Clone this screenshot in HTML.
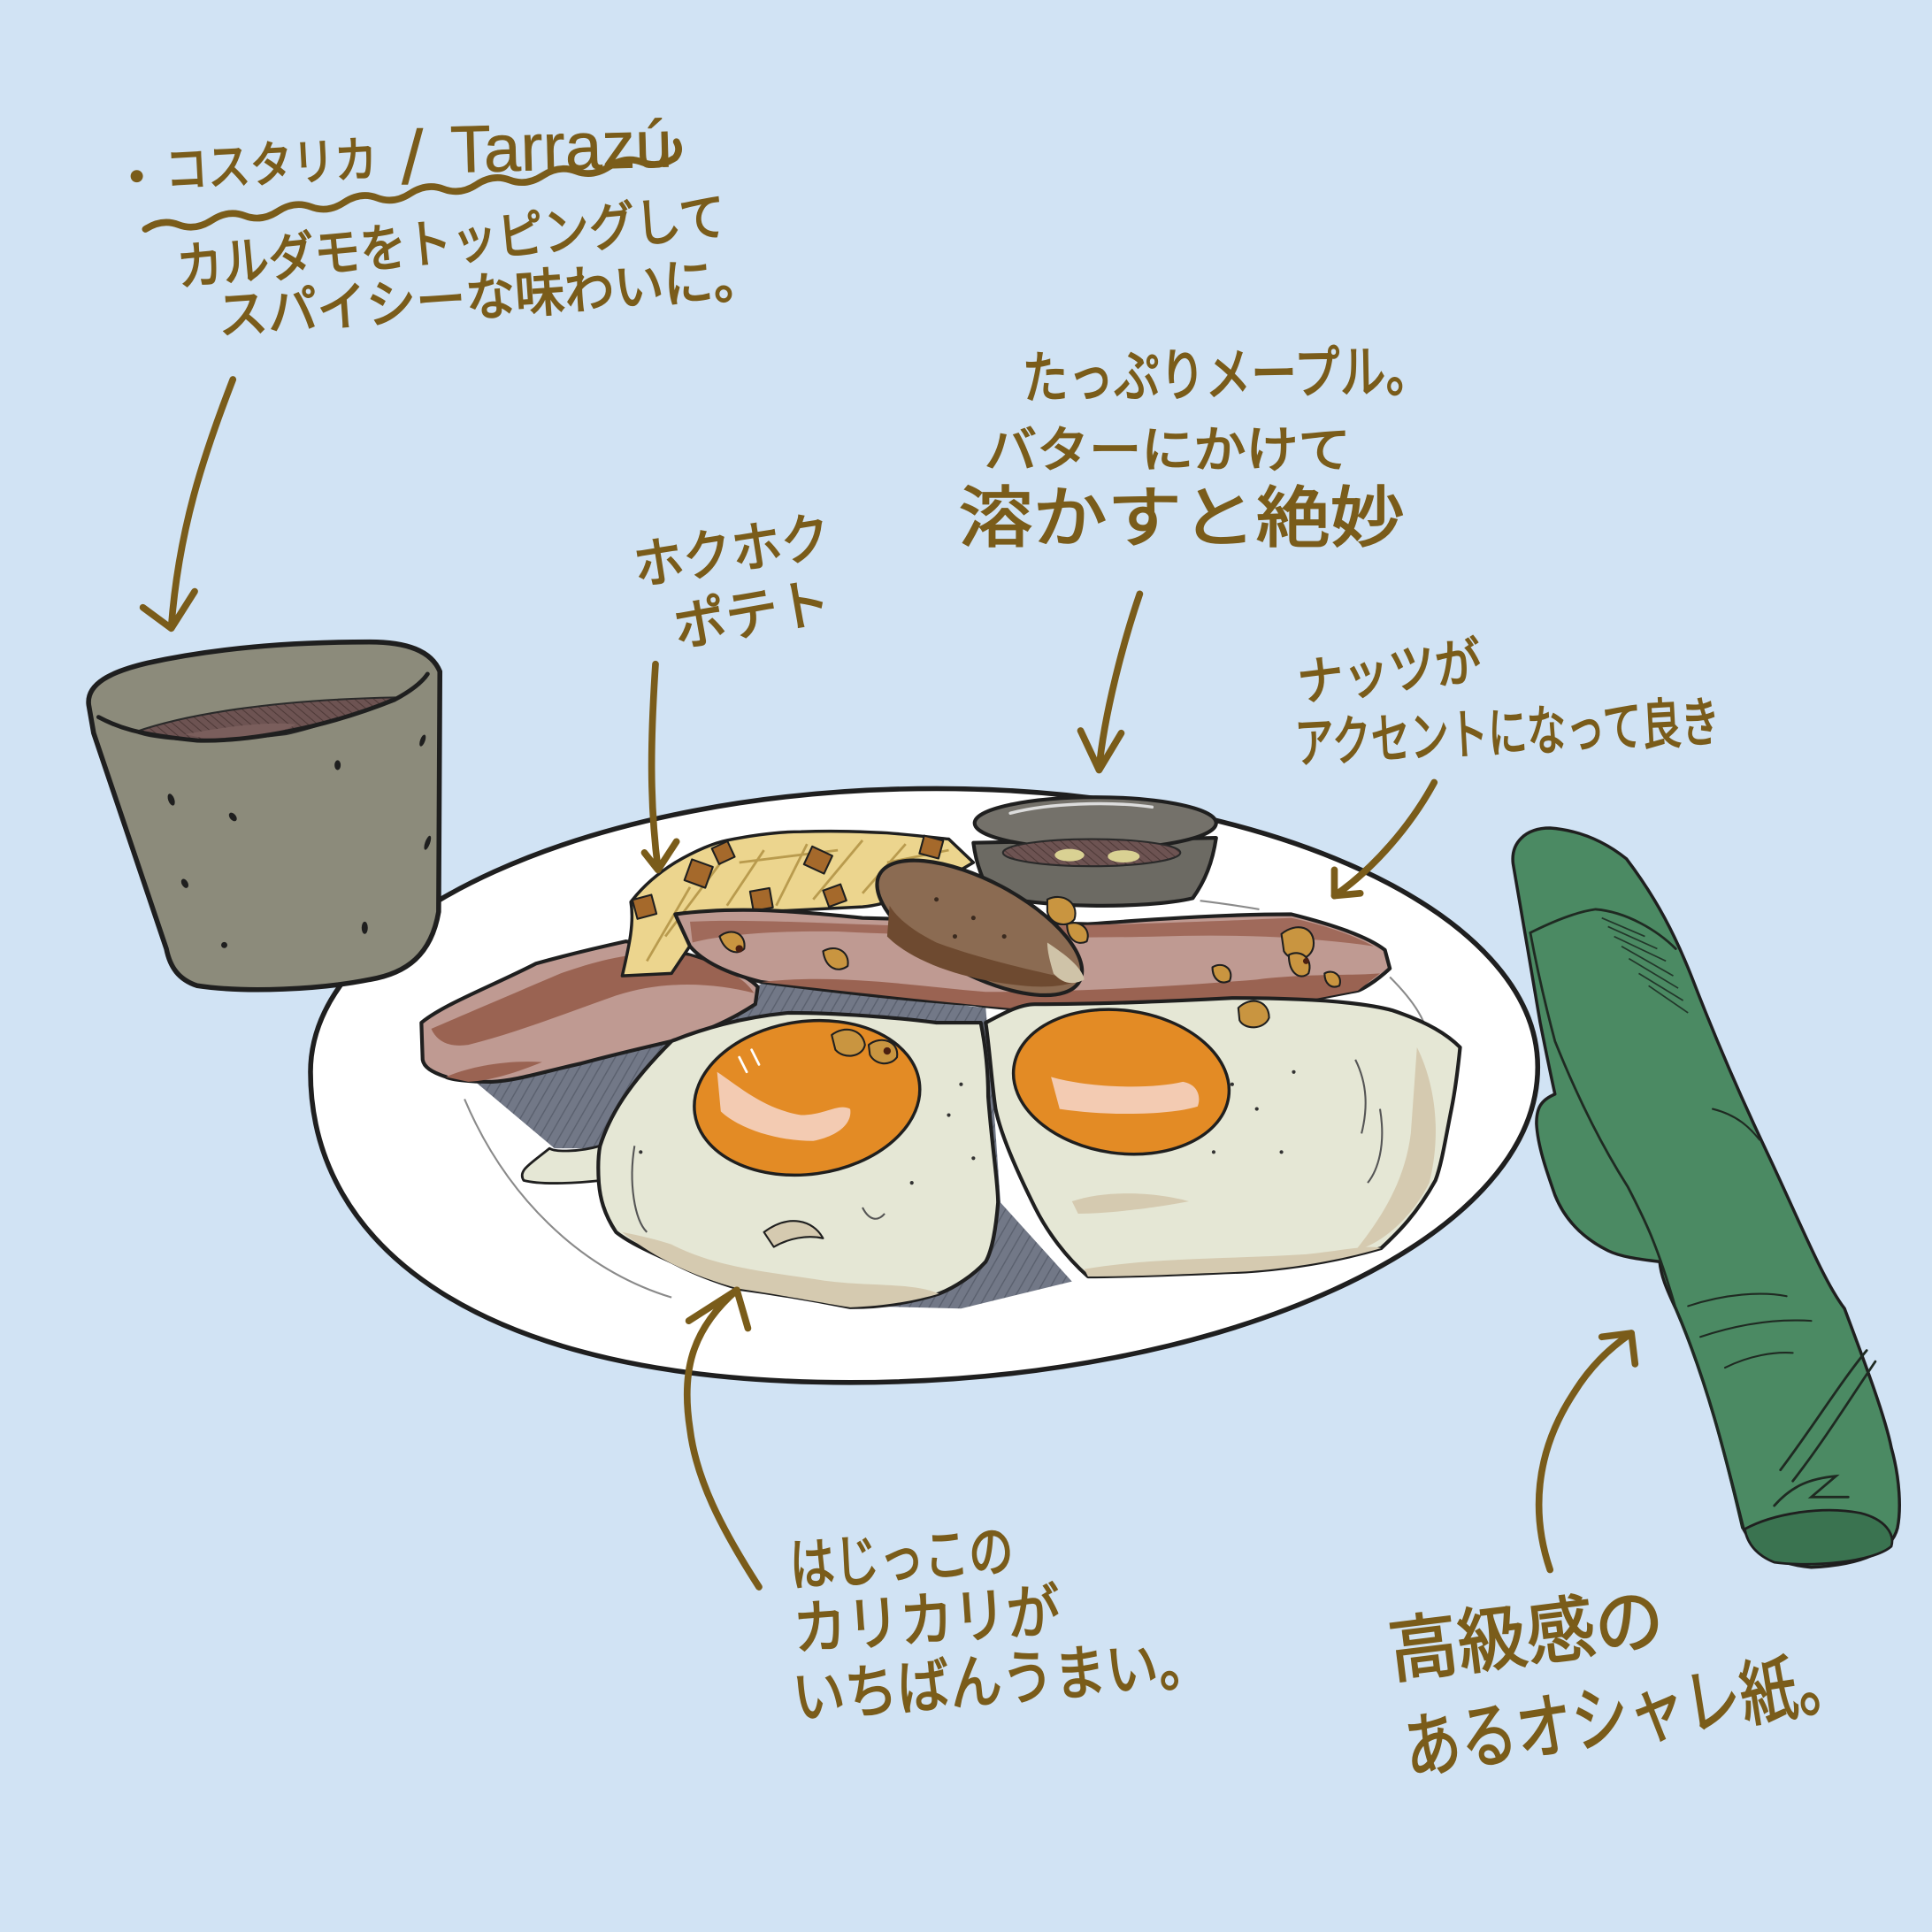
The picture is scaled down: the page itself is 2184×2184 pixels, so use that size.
<!DOCTYPE html>
<html>
<head>
<meta charset="utf-8">
<style>
html,body{margin:0;padding:0;background:#d1e3f4;}
svg{display:block}
.t{font-family:"Liberation Sans","Noto Sans CJK JP",sans-serif;fill:#7a5c1a;stroke:#7a5c1a;stroke-width:1.3;}
.tl{font-family:"Liberation Sans",sans-serif;fill:#7a5c1a;stroke:#7a5c1a;stroke-width:0.4;}
.ar{fill:none;stroke:#7a5c1a;stroke-width:5.5;stroke-linecap:round;stroke-linejoin:round;}
.ol{stroke:#1f1f1f;stroke-linejoin:round;stroke-linecap:round;}
</style>
</head>
<body>
<svg width="2184" height="2184" viewBox="0 0 1568 1568" xmlns="http://www.w3.org/2000/svg">
<defs>
<pattern id="hatch" width="7" height="7" patternUnits="userSpaceOnUse" patternTransform="rotate(30)">
<rect width="7" height="7" fill="#727887"/>
<line x1="0" y1="0" x2="0" y2="7" stroke="#5a606e" stroke-width="2"/>
</pattern>
<pattern id="chatch" width="5" height="5" patternUnits="userSpaceOnUse" patternTransform="rotate(-50)">
<rect width="5" height="5" fill="#6d5352"/>
<line x1="0" y1="0" x2="0" y2="5" stroke="#4e3937" stroke-width="1.5"/>
</pattern>
</defs>
<rect width="1568" height="1568" fill="#d1e3f4"/>

<!-- PLATE -->
<path class="ol" d="M252,870 C252,743 481,640 760,640 C1029,640 1248,741 1248,866 C1248,1007 992,1122 690,1122 C388,1122 252,1011 252,870 Z" fill="#ffffff" stroke-width="4"/>
<path d="M377,892 C410,970 470,1030 545,1053" fill="none" stroke="#8a8a8a" stroke-width="1.5"/>
<path d="M1128,793 C1145,810 1155,825 1158,837" fill="none" stroke="#8a8a8a" stroke-width="1.5"/>
<path d="M974,731 C990,733 1005,735 1022,738" fill="none" stroke="#8a8a8a" stroke-width="1.5"/>

<!-- shadow -->
<path d="M387,879 L545,845 L620,797 L800,818 L806,890 L812,976 L870,1040 L780,1062 L700,1060 L600,1045 L500,1000 L486,932 L450,932 Z" fill="url(#hatch)"/>

<!-- sauce cup -->
<path class="ol" d="M790,684 C792,700 798,718 806,726 C840,737 930,738 968,729 C978,715 984,700 987,680 Z" fill="#6c6a63" stroke-width="3"/>
<ellipse class="ol" cx="889" cy="668" rx="98" ry="21" fill="#74716a" stroke-width="3"/>
<ellipse cx="886" cy="692" rx="72" ry="11" fill="url(#chatch)" stroke="#2a2a2a" stroke-width="1.5"/>
<ellipse cx="868" cy="694" rx="12" ry="5" fill="#d9d193"/>
<ellipse cx="912" cy="695" rx="13" ry="5" fill="#d9d193"/>
<path d="M820,660 C850,652 900,650 935,655" fill="none" stroke="#dcdcdc" stroke-width="2.5" stroke-linecap="round"/>

<!-- left bacon -->
<path class="ol" d="M342,830 C360,815 400,800 435,782 C460,775 490,768 508,764 C540,768 570,778 582,782 C600,790 610,795 615,801 L613,815 C590,830 565,840 545,845 C515,852 490,858 472,863 C440,870 420,877 399,878 C380,878 365,876 362,874 C350,870 344,866 343,860 Z" fill="#bf9a92" stroke-width="3"/>
<path d="M350,835 C380,822 420,805 455,790 C490,778 520,770 560,776 C590,785 605,795 612,806 C580,798 540,795 500,808 C460,822 420,838 380,848 C365,850 355,846 350,835 Z" fill="#9a6352"/>
<path d="M362,874 C380,866 410,860 440,862 C420,870 400,877 380,878 Z" fill="#9a6352"/>

<!-- fries -->
<path class="ol" d="M505,792 C510,770 515,750 512,732 C525,715 540,705 548,700 C565,690 580,684 590,682 C620,676 640,675 650,675 C680,674 700,675 720,676 C745,678 760,680 770,681 L790,700 C770,712 750,722 740,725 C720,733 710,735 700,736 L620,740 C600,742 585,744 575,746 C565,760 555,775 545,790 Z" fill="#ecd58e" stroke-width="2.5"/>
<g stroke="#b99b4e" stroke-width="2" fill="none">
<path d="M525,780 L560,720"/><path d="M540,760 L585,700"/><path d="M590,735 L620,690"/>
<path d="M630,735 L655,685"/><path d="M660,730 L700,682"/><path d="M700,725 L735,685"/>
<path d="M600,700 L680,690"/><path d="M720,700 L770,690"/>
</g>
<g class="ol" fill="#a5692b" stroke-width="1.5">
<rect x="515" y="728" width="16" height="16" transform="rotate(-15 523 736)"/>
<rect x="558" y="700" width="18" height="18" transform="rotate(20 567 709)"/>
<rect x="610" y="722" width="16" height="16" transform="rotate(-10 618 730)"/>
<rect x="655" y="690" width="18" height="16" transform="rotate(25 664 698)"/>
<rect x="670" y="720" width="15" height="14" transform="rotate(-20 677 727)"/>
<rect x="748" y="680" width="16" height="15" transform="rotate(15 756 687)"/>
<rect x="580" y="685" width="14" height="14" transform="rotate(-25 587 692)"/>
</g>

<!-- long bacon -->
<path class="ol" d="M548,742 C600,735 650,740 700,745 L883,750 C950,745 1000,742 1048,742 C1080,750 1110,760 1124,771 L1128,786 C1115,798 1105,803 1102,804 C1060,812 1010,822 974,826 C930,824 880,822 828,819 C810,818 795,816 790,815 C740,812 680,805 618,797 C590,790 570,780 560,768 Z" fill="#bf9a92" stroke-width="3"/>
<path d="M618,797 C680,790 740,800 800,805 C880,805 960,800 1020,795 C1060,790 1095,792 1120,790 L1102,804 C1060,812 1010,822 974,826 L828,819 C780,815 700,806 618,797 Z" fill="#9a6352"/>
<path d="M560,748 C620,745 700,752 780,752 C880,752 980,748 1048,745 C1080,752 1100,760 1115,768 C1060,760 1000,758 940,760 C860,762 760,760 680,756 C620,755 580,760 562,765 Z" fill="#a06a5b"/>

<!-- sausage -->
<ellipse class="ol" cx="795" cy="753" rx="92" ry="38" transform="rotate(28 795 753)" fill="#8b6b52" stroke-width="3"/>
<path d="M720,760 C740,780 780,795 830,800 C850,802 865,800 875,796 C850,790 800,780 760,765 C740,755 728,745 722,735 Z" fill="#6e4a30"/>
<path d="M850,765 C865,775 878,785 880,795 C870,800 862,798 855,790 C852,780 850,772 850,765 Z" fill="#cfc3a8"/>
<g fill="#3a2a1f"><circle cx="760" cy="730" r="1.8"/><circle cx="790" cy="745" r="1.8"/><circle cx="815" cy="760" r="1.8"/><circle cx="775" cy="760" r="1.8"/></g>

<!-- left egg -->
<path d="M487,930 C470,935 450,935 446,932 C430,945 420,950 425,958 C440,962 470,960 488,958 Z" fill="#e5e7d5" class="ol" stroke-width="2"/>
<path class="ol" d="M545,845 C570,835 600,826 640,822 C680,822 730,826 760,830 L796,830 C800,850 802,870 802,890 C805,930 810,960 810,976 C808,1000 805,1015 800,1024 C790,1035 775,1045 762,1050 C740,1057 715,1061 690,1061 C660,1055 630,1050 600,1046 C580,1040 560,1032 545,1024 C525,1015 510,1008 500,1000 C490,985 487,972 486,960 C485,945 486,935 487,930 C495,905 510,880 545,845 Z" fill="#e5e7d5" stroke-width="3"/>
<path d="M505,1000 C530,1020 560,1035 600,1046 C640,1052 670,1058 690,1061 C720,1060 745,1055 762,1050 C740,1040 700,1045 660,1038 C620,1032 580,1028 545,1010 C530,1005 515,1002 505,1000 Z" fill="#d5cab0"/>
<path d="M620,1000 C640,985 660,990 668,1005 C655,1002 640,1005 628,1012 Z" fill="#d5cab0" class="ol" stroke-width="1.5"/>
<ellipse class="ol" cx="655" cy="891" rx="92" ry="62" transform="rotate(-8 655 891)" fill="#e38b25" stroke-width="2.5"/>
<path d="M582,870 C600,882 620,900 650,905 C670,905 680,895 690,900 C692,912 680,922 660,926 C630,926 600,916 585,902 Z" fill="#f3cbb2"/>
<path d="M600,858 L606,870 M610,852 L616,864" stroke="#fff" stroke-width="2" stroke-linecap="round"/>

<!-- right egg -->
<path class="ol" d="M800,830 C815,822 828,815 840,815 C900,815 960,812 1000,810 C1050,810 1100,812 1130,820 C1160,830 1175,840 1185,850 C1183,870 1180,890 1178,900 C1173,925 1170,945 1165,958 C1150,985 1135,1000 1121,1013 C1080,1025 1040,1030 1011,1032 C960,1034 920,1036 883,1036 C865,1020 850,1000 840,980 C825,950 812,920 808,900 C805,880 803,850 800,830 Z" fill="#e5e7d5" stroke-width="3"/>
<path d="M1150,850 C1165,880 1170,920 1160,960 C1145,990 1120,1010 1100,1015 C1120,990 1140,960 1145,920 Z" fill="#d5cab0"/>
<path d="M880,1030 C940,1020 1000,1022 1060,1018 C1090,1015 1110,1010 1121,1013 C1080,1025 1040,1030 1011,1032 C960,1034 920,1036 883,1036 Z" fill="#d5cab0"/>
<path d="M870,975 C900,965 940,968 965,975 C940,980 900,985 875,985 Z" fill="#d5cab0"/>
<ellipse class="ol" cx="910" cy="878" rx="88" ry="58" transform="rotate(8 910 878)" fill="#e38b25" stroke-width="2.5"/>
<path d="M853,874 C880,882 930,885 960,878 C972,880 975,890 972,898 C950,905 900,906 860,900 Z" fill="#f3cbb2"/>

<!-- egg speckles & lines -->
<g fill="#333">
<circle cx="780" cy="880" r="1.5"/><circle cx="770" cy="905" r="1.5"/><circle cx="1000" cy="880" r="1.5"/><circle cx="1020" cy="900" r="1.5"/>
<circle cx="1050" cy="870" r="1.5"/><circle cx="985" cy="935" r="1.5"/><circle cx="520" cy="935" r="1.5"/><circle cx="740" cy="960" r="1.5"/>
<circle cx="1040" cy="935" r="1.5"/><circle cx="790" cy="940" r="1.5"/>
</g>
<g fill="none" stroke="#555" stroke-width="1.5">
<path d="M1100,860 C1110,880 1110,900 1105,920"/><path d="M1120,900 C1125,930 1118,950 1110,960"/>
<path d="M515,930 C510,960 515,990 525,1000"/><path d="M700,980 C705,990 712,992 718,985"/>
</g>

<!-- nuts -->
<g class="ol" fill="#c99540" stroke-width="1.5">
<path d="M675,840 C685,832 700,835 702,848 C700,858 685,860 678,852 Z"/>
<path d="M705,848 C715,840 730,845 728,858 C722,866 710,864 706,856 Z"/>
<path d="M1040,758 C1052,748 1068,752 1066,768 C1064,780 1048,782 1042,772 Z"/>
<path d="M1046,775 C1056,770 1066,778 1062,790 C1055,796 1046,790 1046,775 Z"/>
<path d="M1005,818 C1015,808 1030,812 1030,826 C1026,836 1010,836 1006,828 Z"/>
<path d="M850,730 C862,724 876,732 872,746 C866,754 852,750 850,740 Z"/>
<path d="M866,750 C876,746 886,754 882,764 C874,768 866,762 866,750 Z"/>
<path d="M584,760 C594,752 606,758 604,770 C598,776 588,772 584,760 Z"/>
<path d="M668,772 C678,766 690,772 688,784 C680,790 670,786 668,772 Z"/>
<path d="M984,785 C992,780 1002,786 998,796 C990,800 984,794 984,785 Z"/>
<path d="M1075,790 C1082,786 1090,792 1087,800 C1080,803 1075,798 1075,790 Z"/>
</g>
<g fill="#4a1f10"><circle cx="720" cy="853" r="3"/><circle cx="600" cy="770" r="3"/><circle cx="1060" cy="780" r="2.5"/></g>

<!-- COFFEE CUP -->
<path class="ol" d="M72,572 C70,555 90,545 120,538 C170,527 230,521 300,521 C330,521 350,528 357,545 L356,740 C350,775 330,790 300,795 C260,803 200,806 160,800 C145,795 138,785 135,770 L76,595 Z" fill="#8c8b7b" stroke-width="4"/>
<path d="M110,594 C150,580 220,568 321,566 C290,580 250,592 232,596 C200,600 170,601 160,601 C135,600 118,598 110,594 Z" fill="url(#chatch)" stroke="#2a2a2a" stroke-width="1.5"/>
<path d="M150,596 C180,590 220,585 240,588 C230,595 200,600 170,600 Z" fill="#7a5e5c"/>
<path d="M80,582 C95,590 110,596 160,601 C200,602 260,592 320,568 C335,560 343,553 347,547" fill="none" stroke="#1f1f1f" stroke-width="3.5" stroke-linecap="round"/>
<g fill="#1f1f1f">
<ellipse cx="139" cy="649" rx="2.5" ry="5" transform="rotate(-20 139 649)"/>
<ellipse cx="189" cy="663" rx="2.5" ry="4" transform="rotate(-40 189 663)"/>
<ellipse cx="274" cy="621" rx="2.5" ry="4"/>
<ellipse cx="343" cy="601" rx="2" ry="5" transform="rotate(20 343 601)"/>
<ellipse cx="150" cy="717" rx="2.5" ry="4" transform="rotate(-30 150 717)"/>
<ellipse cx="182" cy="767" rx="2.5" ry="2.5"/>
<ellipse cx="296" cy="753" rx="2.5" ry="5"/>
<ellipse cx="347" cy="684" rx="2" ry="6" transform="rotate(20 347 684)"/>
</g>

<!-- NAPKIN -->
<path class="ol" d="M1228,701 C1226,684 1238,672 1258,672 C1285,674 1305,685 1320,697 C1345,730 1360,760 1373,793 C1395,850 1415,895 1434,935 C1460,990 1480,1040 1497,1062 C1515,1110 1530,1150 1535,1175 C1542,1200 1543,1225 1540,1240 C1535,1260 1510,1270 1470,1272 C1445,1270 1425,1260 1415,1241 C1400,1180 1385,1120 1360,1062 C1352,1045 1348,1035 1347,1024 C1330,1022 1315,1020 1305,1015 C1285,1005 1270,990 1262,970 C1255,950 1248,930 1247,912 C1247,900 1250,893 1262,888 C1258,870 1254,850 1250,830 C1243,790 1235,740 1228,701 Z" fill="#4b8a63" stroke-width="2.5"/>
<path d="M1416,1241 C1440,1228 1480,1222 1510,1228 C1530,1233 1538,1245 1535,1255 C1520,1268 1470,1272 1440,1268 C1425,1262 1418,1252 1416,1241 Z" fill="#3a7350" class="ol" stroke-width="2"/>
<g fill="none" stroke="#1f2a22" stroke-width="2" stroke-linecap="round">
<path d="M1242,757 C1250,800 1258,830 1262,845 C1280,890 1300,930 1321,963 C1335,990 1345,1010 1360,1062 C1385,1120 1400,1180 1414,1240"/>
<path d="M1242,757 C1260,748 1280,740 1295,738 C1320,740 1345,755 1360,770"/>
<path d="M1445,1193 C1470,1160 1495,1120 1515,1096"/>
<path d="M1455,1202 C1480,1170 1505,1130 1522,1105"/>
<path d="M1440,1222 C1455,1205 1470,1200 1490,1198 L1470,1215 L1500,1215"/>
<path d="M1390,900 C1410,905 1420,915 1428,925" stroke-width="1.5"/>
<path d="M1370,1060 C1400,1050 1430,1048 1450,1052" stroke-width="1.5"/>
<path d="M1380,1085 C1410,1075 1440,1070 1470,1072" stroke-width="1.5"/>
<path d="M1400,1110 C1420,1100 1440,1097 1455,1098" stroke-width="1.5"/>
</g>
<g stroke="#22372a" stroke-width="1.2">
<line x1="1300" y1="745" x2="1335" y2="760"/><line x1="1305" y1="752" x2="1345" y2="770"/>
<line x1="1310" y1="760" x2="1352" y2="780"/><line x1="1316" y1="768" x2="1358" y2="792"/>
<line x1="1322" y1="778" x2="1362" y2="802"/><line x1="1330" y1="790" x2="1366" y2="812"/>
<line x1="1338" y1="800" x2="1370" y2="822"/>
</g>

<!-- TEXT -->
<circle cx="111" cy="143" r="5" fill="#7a5c1a"/>
<text class="t" x="135" y="152" font-size="40" textLength="172" lengthAdjust="spacingAndGlyphs" transform="rotate(-3 135 152)">コスタリカ</text>
<text class="tl" x="326" y="149" font-size="62">/</text>
<text class="tl" x="366" y="140" font-size="54" textLength="180" lengthAdjust="spacingAndGlyphs" transform="rotate(-1.5 366 140)">Tarrazú</text>
<text class="t" x="145" y="232" font-size="42" textLength="447" lengthAdjust="spacingAndGlyphs" transform="rotate(-5.4 145 232)">カルダモをトッピングして</text>
<text class="t" x="178" y="271" font-size="42" textLength="443" lengthAdjust="spacingAndGlyphs" transform="rotate(-4 178 271)">スパイシーな味わいに。</text>

<text class="t" x="830" y="323" font-size="46" textLength="332" lengthAdjust="spacingAndGlyphs" transform="rotate(-1 830 323)">たっぷりメープル。</text>
<text class="t" x="799" y="379" font-size="40" textLength="297" lengthAdjust="spacingAndGlyphs">バターにかけて</text>
<text class="t" x="778" y="439" font-size="54" textLength="362" lengthAdjust="spacingAndGlyphs">溶かすと絶妙</text>

<text class="t" x="517" y="475" font-size="44" textLength="161" lengthAdjust="spacingAndGlyphs" transform="rotate(-9 517 475)">ホクホク</text>
<text class="t" x="550" y="525" font-size="44" textLength="128" lengthAdjust="spacingAndGlyphs" transform="rotate(-10 550 525)">ポテト</text>

<text class="t" x="1055" y="569" font-size="42" textLength="150" lengthAdjust="spacingAndGlyphs" transform="rotate(-7 1055 569)">ナッツが</text>
<text class="t" x="1052" y="619" font-size="44" textLength="345" lengthAdjust="spacingAndGlyphs" transform="rotate(-3 1052 619)">アクセントになって良き</text>

<text class="t" x="642" y="1287" font-size="46" textLength="182" lengthAdjust="spacingAndGlyphs" transform="rotate(-4 642 1287)">はじっこの</text>
<text class="t" x="645" y="1339" font-size="48" textLength="217" lengthAdjust="spacingAndGlyphs" transform="rotate(-4 645 1339)">カリカリが</text>
<text class="t" x="645" y="1395" font-size="48" textLength="340" lengthAdjust="spacingAndGlyphs" transform="rotate(-5 645 1395)">いちばんうまい。</text>

<text class="t" x="1130" y="1361" font-size="58" textLength="224" lengthAdjust="spacingAndGlyphs" transform="rotate(-7 1130 1361)">高級感の</text>
<text class="t" x="1143" y="1440" font-size="58" textLength="368" lengthAdjust="spacingAndGlyphs" transform="rotate(-9 1143 1440)">あるオシャレ紙。</text>

<!-- wavy underline -->
<path class="ar" stroke-width="5" d="M118,186 Q131.4,177.2 144.9,182.4 Q158.3,187.6 171.8,178.8 Q185.2,170 198.6,175.1 Q212,180.3 225.5,171.5 Q239,162.7 252.4,167.9 Q265.8,173.1 279.3,164.3 Q292.7,155.4 306.1,160.6 Q319.5,165.8 333,157 Q346.4,148.2 359.9,153.4 Q373.3,158.6 386.8,149.8 Q400.2,141 413.6,146.1 Q427,151.3 440.5,142.5 Q454,133.7 467.4,138.9 Q480.8,144.1 494.3,135.3 Q507.7,126.4 521.1,131.6 Q534.5,136.8 548,128 Q553,122 549,115"/>

<!-- ARROWS -->
<path class="ar" d="M189,308 C165,370 145,430 139,509"/>
<path class="ar" d="M116,493 L139,510 L158,480"/>
<path class="ar" d="M532,539 C528,600 527,650 534,705"/>
<path class="ar" d="M523,692 L534,706 L549,683"/>
<path class="ar" d="M925,482 C912,520 896,580 892,624"/>
<path class="ar" d="M877,593 L892,625 L910,595"/>
<path class="ar" d="M1164,635 C1145,670 1115,705 1083,727"/>
<path class="ar" d="M1083,706 L1083,727 L1104,725"/>
<path class="ar" d="M616,1288 C585,1240 565,1200 560,1160 C553,1115 560,1080 598,1047"/>
<path class="ar" d="M559,1072 L598,1047 L607,1078"/>
<path class="ar" d="M1258,1274 C1243,1230 1245,1180 1277,1131 C1290,1110 1305,1095 1324,1082"/>
<path class="ar" d="M1300,1085 L1324,1082 L1327,1107"/>
</svg>
</body>
</html>
